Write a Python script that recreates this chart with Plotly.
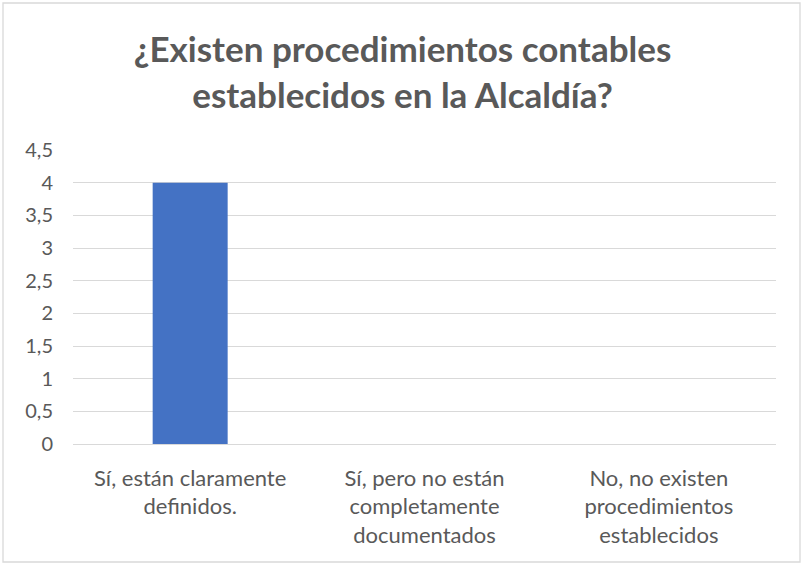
import plotly.graph_objects as go

categories = ["Sí, están claramente<br>definidos.",
              "Sí, pero no están<br>completamente<br>documentados",
              "No, no existen<br>procedimientos<br>establecidos"]
values = [4, 0, 0]
y_tick_vals = [0, 0.5, 1, 1.5, 2, 2.5, 3, 3.5, 4, 4.5]
y_tick_text = ["0", "0,5", "1", "1,5", "2", "2,5", "3", "3,5", "4", "4,5"]
title_text = "¿Existen procedimientos contables<br>establecidos en la Alcaldía?"

FONT = "Lato, 'Noto Sans', sans-serif"
TXT = "#595959"

fig = go.Figure(go.Bar(x=categories, y=values, marker=dict(color="#4472C4", line=dict(width=0)),
                       width=0.32))

fig.update_layout(
    width=805, height=565,
    paper_bgcolor="white", plot_bgcolor="white",
    margin=dict(l=73, r=29, t=150, b=121),
    font=dict(family=FONT, color=TXT, size=20),
    title=dict(text=title_text, x=0.5, xanchor="center", y=1 - 62/565, yanchor="top",
               yref="container",
               font=dict(family=FONT, size=35, color=TXT, weight="bold")),
    showlegend=False,
)
fig.update_yaxes(range=[0, 4.5], tickvals=y_tick_vals, ticktext=y_tick_text,
                 showgrid=True, gridcolor="#d9d9d9", gridwidth=1.3, zeroline=False,
                 showline=False, ticks="", ticklabelstandoff=19,
                 tickfont=dict(size=20, color=TXT, family=FONT))
fig.update_xaxes(showline=True, linecolor="#d9d9d9", linewidth=1.3, ticks="",
                 tickfont=dict(size=22, color=TXT, family=FONT), ticklabelstandoff=14)

fig.add_shape(type="rect", xref="paper", yref="paper",
              x0=(3 - 73) / 703, x1=(800 - 73) / 703,
              y0=(444 - 562) / 294, y1=(444 - 3) / 294,
              line=dict(color="#d9d9d9", width=1.3), fillcolor="rgba(0,0,0,0)", layer="below")

fig.write_html("out.html", config={"displayModeBar": False},
               post_script="document.body.style.margin='0';")
